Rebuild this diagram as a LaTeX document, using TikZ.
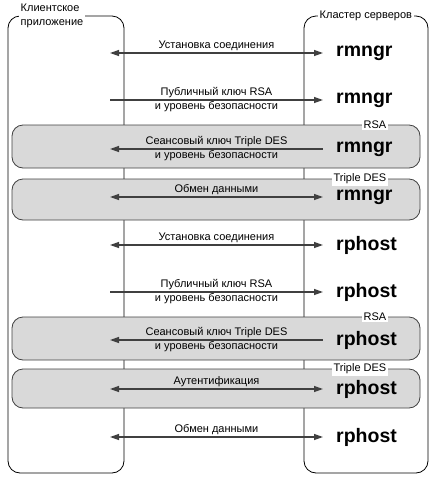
\documentclass[tikz,border=0pt]{standalone}
\usepackage{fontspec}
\setmainfont{Liberation Sans}
\usetikzlibrary{arrows.meta,positioning}

\begin{document}
\begin{tikzpicture}[x=1pt,y=-1pt,
  column/.style={draw,rounded corners=12pt,line width=.8pt},
  band/.style={draw=black!75,fill=black!15,rounded corners=11pt,line width=.8pt,minimum width=408pt},
  tag/.style={fill=white,inner sep=1.5pt,font=\fontsize{11}{14}\selectfont},
  server/.style={anchor=west,inner xsep=13pt,inner ysep=0pt,font=\fontsize{19.5}{20}\selectfont\bfseries},
  txt/.style={font=\fontsize{11}{14}\selectfont,align=center,inner sep=2pt},
  tip/.tip={Triangle[length=9pt,width=6pt]},
  msg/.style={draw=black!75,line width=1.3pt}]
\useasboundingbox (0,0) rectangle (437,480);
% columns
\node[column,minimum width=116pt,minimum height=457pt] (client) at (66,244.5) {};
\node[column,minimum width=124pt,minimum height=457pt] (cluster) at (366,244.5) {};
% encrypted phases
\node[band,minimum height=43pt] (rsa1) at (216,146.5) {};
\node[band,minimum height=41pt] (des1) at (216,199.5) {};
\node[band,minimum height=43pt] (rsa2) at (216,338.5) {};
\node[band,minimum height=39pt] (des2) at (216,388.5) {};
\node[tag,anchor=east] (rsa1t) at (388,125) {RSA};
\node[tag,anchor=east] (des1t) at (388,179) {Triple DES};
\node[tag,anchor=east] (rsa2t) at (388,317) {RSA};
\node[tag,anchor=east] (des2t) at (388,369) {Triple DES};
% titles
\node[tag,align=left,anchor=north west] (clientt) at (19,2) {Клиентское\\приложение};
\node[tag,anchor=west] (clustert) at (318,16) {Кластер серверов};
% servers
\node[server] (s1) at (323,53) {rmngr};
\node[server] (s2) at (323,100) {rmngr};
\node[server] (s3) at (323,149) {rmngr};
\node[server] (s4) at (323,197) {rmngr};
\node[server] (s5) at (323,245) {rphost};
\node[server] (s6) at (323,292) {rphost};
\node[server] (s7) at (323,340) {rphost};
\node[server] (s8) at (323,389) {rphost};
\node[server] (s9) at (323,437) {rphost};
\coordinate (c1) at (110,53);
\coordinate (c2) at (110,100);
\coordinate (c3) at (110,149);
\coordinate (c4) at (110,197);
\coordinate (c5) at (110,245);
\coordinate (c6) at (110,292);
\coordinate (c7) at (110,340);
\coordinate (c8) at (110,389);
\coordinate (c9) at (110,437);
% messages
\draw[msg,tip-tip] (c1) -- node[txt,above] {Установка соединения} (s1);
\draw[msg,-tip] (c2) -- node[txt] {Публичный ключ RSA\\и уровень безопасности} (s2);
\draw[msg,tip-] (c3) -- node[txt] {Сеансовый ключ Triple DES\\и уровень безопасности} (s3);
\draw[msg,tip-tip] (c4) -- node[txt,above] {Обмен данными} (s4);
\draw[msg,tip-tip] (c5) -- node[txt,above] {Установка соединения} (s5);
\draw[msg,-tip] (c6) -- node[txt] {Публичный ключ RSA\\и уровень безопасности} (s6);
\draw[msg,tip-] (c7) -- node[txt] {Сеансовый ключ Triple DES\\и уровень безопасности} (s7);
\draw[msg,tip-tip] (c8) -- node[txt,above] {Аутентификация} (s8);
\draw[msg,tip-tip] (c9) -- node[txt,above] {Обмен данными} (s9);
\end{tikzpicture}
\end{document}
